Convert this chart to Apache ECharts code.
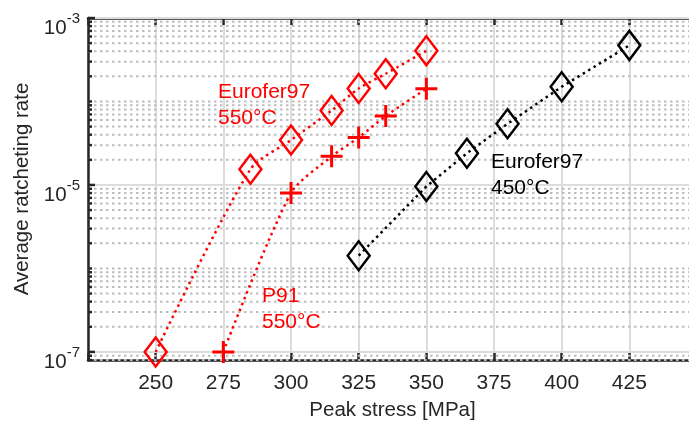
<!DOCTYPE html>
<html><head><meta charset="utf-8">
<script src="https://cdn.jsdelivr.net/npm/echarts@6/dist/echarts.min.js"></script>
<style>html,body{margin:0;padding:0;background:#fff}#c{width:689px;height:427px}</style>
</head><body><div id="c"></div>
<script>
// ---- data ----
const xTicks = [250, 275, 300, 325, 350, 375, 400, 425];
const yLabelExponents = [-7, -5, -3];
const euro550X = [250, 285, 300, 315, 325, 335, 350];
const euro550Y = [1e-7, 1.54e-5, 3.45e-5, 7.8e-5, 1.43e-4, 2.15e-4, 4.05e-4];
const p91X = [275, 300, 315, 325, 335, 350];
const p91Y = [1e-7, 8e-6, 2.2e-5, 3.7e-5, 6.7e-5, 1.42e-4];
const euro450X = [325, 350, 365, 380, 400, 425];
const euro450Y = [1.42e-6, 9.6e-6, 2.4e-5, 5.4e-5, 1.5e-4, 4.7e-4];
const annotations = [
  {text: 'Eurofer97\n550°C', color: '#ff0000', x: 218, y: 79},
  {text: 'P91\n550°C', color: '#ff0000', x: 262, y: 283},
  {text: 'Eurofer97\n450°C', color: '#000000', x: 491, y: 149}
];

const X_MIN = 225, X_MAX = 450, Y_MIN = 8e-8, Y_MAX = 1e-3;
const FONT = "'Liberation Sans', Arial, Helvetica, sans-serif";
const AX = '#262626';

// horizontal grid levels (major = labelled decades, others dotted)
const gridLevels = [];
for (let e = -8; e <= -3; e++) {
  for (let k = 1; k <= 9; k++) {
    const v = k * Math.pow(10, e);
    if (v < Y_MIN * 0.999 || v > Y_MAX * 1.001) continue;
    const major = (k === 1 && yLabelExponents.indexOf(e) >= 0);
    gridLevels.push([X_MIN, v, major ? 1 : 0]);
  }
}

const zip = (xs, ys) => xs.map((x, i) => [x, ys[i]]);
const crossPath = 'path://M-1.5,-11L1.5,-11L1.5,-1.5L11,-1.5L11,1.5L1.5,1.5L1.5,11L-1.5,11L-1.5,1.5L-11,1.5L-11,-1.5L-1.5,-1.5Z';
const dotted = [2.5, 3.8];

const chart = echarts.init(document.getElementById('c'), null, {renderer: 'canvas'});
chart.setOption({
  animation: false,
  backgroundColor: '#ffffff',
  textStyle: {fontFamily: FONT},
  grid: {left: 88, width: 609, top: 18, height: 342, containLabel: false, outerBoundsMode: 'none'},
  xAxis: [{
    type: 'value', min: X_MIN, max: X_MAX, interval: 25,
    name: 'Peak stress [MPa]', nameLocation: 'middle', nameGap: 40,
    nameTextStyle: {fontSize: 20.5, color: AX, fontFamily: FONT},
    axisLine: {show: true, onZero: false, lineStyle: {color: AX, width: 2.5}},
    axisTick: {show: true, inside: true, length: 7, lineStyle: {color: AX, width: 2.5}},
    axisLabel: {
      show: true, margin: 13, fontSize: 21, color: AX, fontFamily: FONT,
      showMinLabel: true, showMaxLabel: true,
      formatter: v => (xTicks.indexOf(v) >= 0 ? String(v) : '')
    },
    splitLine: {show: true, lineStyle: {color: '#dcdcdc', width: 2}}
  }, {
    type: 'value', position: 'top', min: X_MIN, max: X_MAX, interval: 25,
    axisLine: {show: true, onZero: false, lineStyle: {color: AX, width: 2.5}},
    axisTick: {show: true, inside: true, length: 7, lineStyle: {color: AX, width: 2.5}},
    axisLabel: {show: false}, splitLine: {show: false}
  }],
  yAxis: [{
    type: 'log', logBase: 10, min: Y_MIN, max: Y_MAX,
    name: 'Average ratcheting rate', nameLocation: 'middle', nameGap: 55,
    nameTextStyle: {fontSize: 20.5, color: AX, fontFamily: FONT},
    axisLine: {show: true, onZero: false, lineStyle: {color: AX, width: 2.5}},
    axisTick: {show: false},
    splitLine: {show: false},
    axisLabel: {
      show: true, margin: 8, color: AX, fontFamily: FONT,
      showMinLabel: true, showMaxLabel: true,
      formatter: function (v) {
        const l = Math.log10(v), e = Math.round(l);
        if (Math.abs(l - e) > 1e-6 || yLabelExponents.indexOf(e) < 0) return '';
        return '{b|10}{s|' + e + '}';
      },
      rich: {
        b: {fontSize: 20.5, lineHeight: 20, color: AX, fontFamily: FONT, verticalAlign: 'top', padding: [10, 0, 0, 0]},
        s: {fontSize: 15, lineHeight: 15, color: AX, fontFamily: FONT, verticalAlign: 'top', padding: [3, 0, 0, 0]}
      }
    }
  }],
  graphic: annotations.map(a => ({
    type: 'text', left: a.x, top: a.y, z: 10,
    style: {text: a.text, fill: a.color, font: '21px ' + FONT, lineHeight: 26}
  })),
  series: [{
    type: 'custom', name: 'grid', silent: true, z: 1,
    data: gridLevels,
    renderItem: function (params, api) {
      const cs = params.coordSys;
      const y = api.coord([api.value(0), api.value(1)])[1];
      const major = api.value(2) === 1;
      return {
        type: 'group',
        children: [{
          type: 'line',
          shape: {x1: cs.x, y1: y, x2: cs.x + cs.width, y2: y},
          style: major ? {stroke: '#dcdcdc', lineWidth: 2}
                       : {stroke: '#bdbdbd', lineWidth: 2, lineDash: [2.5, 3.5]}
        }, {
          type: 'line',
          shape: {x1: cs.x, y1: y, x2: cs.x + (major ? 7 : 4), y2: y},
          style: {stroke: AX, lineWidth: 2.5}
        }]
      };
    }
  }, {
    type: 'line', name: 'Eurofer97 550°C', data: zip(euro550X, euro550Y), z: 3,
    smooth: 0.25,
    symbol: 'diamond', symbolSize: [22, 29],
    lineStyle: {color: '#ff0000', width: 2.5, type: dotted},
    itemStyle: {color: 'rgba(0,0,0,0)', borderColor: '#ff0000', borderWidth: 2.5}
  }, {
    type: 'line', name: 'P91 550°C', data: zip(p91X, p91Y), z: 3,
    smooth: 0.25,
    symbol: crossPath, symbolSize: 22,
    lineStyle: {color: '#ff0000', width: 2.5, type: dotted},
    itemStyle: {color: '#ff0000', borderWidth: 0}
  }, {
    type: 'line', name: 'Eurofer97 450°C', data: zip(euro450X, euro450Y), z: 3,
    symbol: 'diamond', symbolSize: [22, 29],
    lineStyle: {color: '#000000', width: 2.5, type: dotted},
    itemStyle: {color: 'rgba(0,0,0,0)', borderColor: '#000000', borderWidth: 2.5}
  }]
});
</script></body></html>
